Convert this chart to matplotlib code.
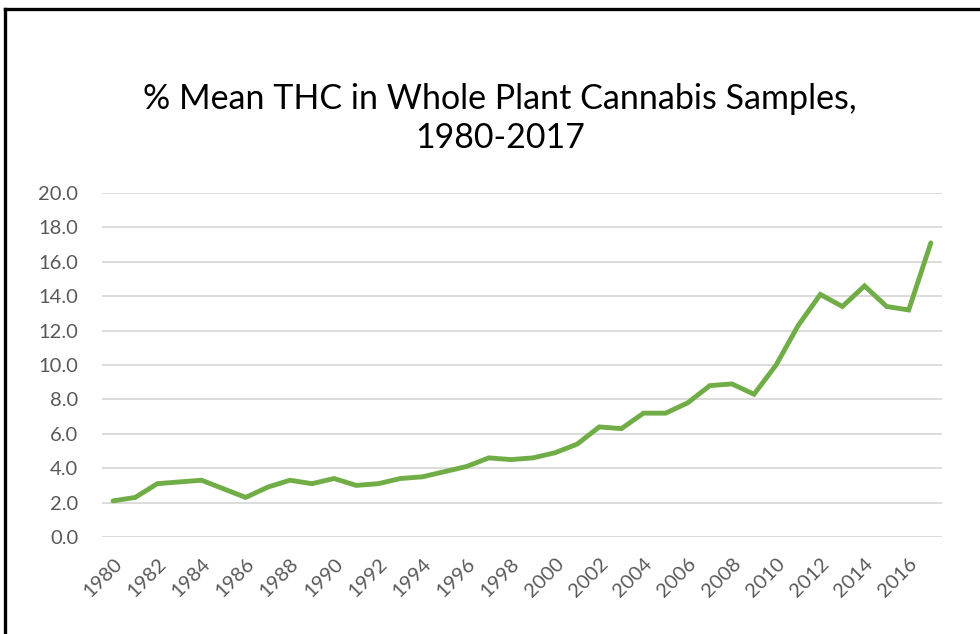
import numpy as np
import matplotlib
matplotlib.use("Agg")
import matplotlib.pyplot as plt
from matplotlib.lines import Line2D

years = np.arange(1980, 2018)
thc = [2.1, 2.3, 3.1, 3.2, 3.3, 2.8, 2.3, 2.9, 3.3, 3.1,
       3.4, 3.0, 3.1, 3.4, 3.5, 3.8, 4.1, 4.6, 4.5, 4.6,
       4.9, 5.4, 6.4, 6.3, 7.2, 7.2, 7.8, 8.8, 8.9, 8.3,
       10.0, 12.3, 14.1, 13.4, 14.6, 13.4, 13.2, 17.1]
tick_years = np.arange(1980, 2017, 2)
title = "% Mean THC in Whole Plant Cannabis Samples,\n1980-2017"

plt.rcParams['font.family'] = ['Lato', 'DejaVu Sans']

fig = plt.figure(figsize=(9.8, 6.34), dpi=100)
ax = fig.add_axes([0.1041, 0.153, 0.857, 0.5426])

ax.plot(years, thc, color='#70AD47', linewidth=3.5, solid_capstyle='round',
        solid_joinstyle='miter', zorder=3)

ax.set_xlim(1979.5, 2017.5)
ax.set_ylim(0, 20)
ax.set_yticks(np.arange(0, 21, 2))
ax.set_yticklabels([f"{v:.1f}" for v in np.arange(0, 21, 2)])
ax.set_xticks(tick_years)
ax.set_xticklabels([str(y) for y in tick_years], rotation=45, ha='right',
                   rotation_mode='anchor')
ax.tick_params(axis='both', length=0, labelsize=14.5, colors='#595959')
ax.tick_params(axis='x', pad=13)
ax.tick_params(axis='y', pad=17)
ax.grid(axis='y', color='#D9D9D9', linewidth=1.3)
ax.set_axisbelow(True)
for s in ax.spines.values():
    s.set_visible(False)

fig.text(0.51, 0.813, title, ha='center', va='center', fontsize=24.5,
         color='black', linespacing=1.27)

# border lines from the cropped frame
fig.add_artist(Line2D([5 / 980, 1.0], [1 - 9 / 634, 1 - 9 / 634],
                      color='black', linewidth=2.4, transform=fig.transFigure))
fig.add_artist(Line2D([5 / 980, 5 / 980], [0, 1 - 9 / 634],
                      color='black', linewidth=2.4, transform=fig.transFigure))

fig.savefig("out.png", dpi=100)
